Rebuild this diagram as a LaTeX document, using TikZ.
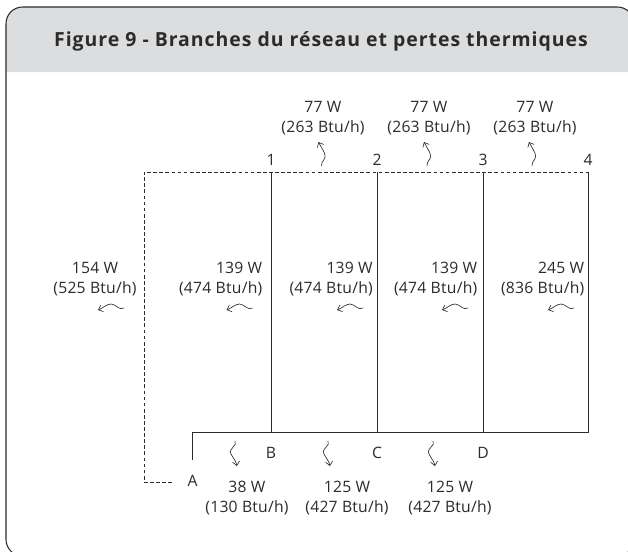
\documentclass[tikz,border=0pt]{standalone}
\usepackage{fontspec}
\setmainfont{Open Sans}
\usepackage{tikz}
\usetikzlibrary{arrows.meta,calc,positioning}
\definecolor{headgrey}{HTML}{DCDDDE}
\definecolor{inkgrey}{HTML}{2B2B2B}

\begin{document}
\begin{tikzpicture}[x=0.03cm, y=-0.03cm, every node/.style={text=inkgrey, inner sep=0pt},
  loss/.style={font=\fontsize{13.4}{17}\selectfont\addfontfeature{LetterSpace=1.5}, align=center},
  lossright/.style={font=\fontsize{13.4}{17}\selectfont\addfontfeature{LetterSpace=1.5}, align=right, anchor=east},
  tag/.style={font=\fontsize{13.4}{15}\selectfont},
  pipe/.style={draw=inkgrey, line width=0.8pt},
  pipedash/.style={draw=inkgrey, line width=0.8pt, dash pattern=on 3.2pt off 2pt},
  squig/.style={draw=inkgrey, line width=0.55pt, -{Straight Barb[length=3.4pt,width=6pt]}},
  pics/lossup/.style={code={\draw[squig] (0,0) .. controls (-1,-5) and (6,-7) .. (3,-13) .. controls (1,-17) and (-1,-20) .. (-3,-24);}},
  pics/lossdown/.style={code={\draw[squig] (0,0) .. controls (3,5) and (-7,7) .. (-4,13) .. controls (-2,17) and (1,20) .. (2,25);}},
  pics/lossleft/.style={code={\draw[squig] (0,0) .. controls (-5,3) and (-8,-4) .. (-13,-4) .. controls (-17,-4) and (-21,0) .. (-26,2);}}]

\useasboundingbox (0,0) rectangle (628,551);
\clip (0,0) rectangle (628,551);

% cadre et titre
\fill[headgrey] (6,72) [rounded corners=0.45cm] -- (6,7) -- (634,7) [sharp corners] -- (634,72) -- cycle;
\draw[inkgrey, line width=0.9pt, rounded corners=0.5cm] (6,7) rectangle (634,556);
\node[font=\fontsize{16.6}{19}\selectfont\bfseries\addfontfeature{LetterSpace=5}] (title) at (321,41.5) {Figure 9 - Branches du réseau et pertes thermiques};

% noeuds du réseau
\coordinate (top0) at (144,172);
\coordinate (top1) at (271,172);
\coordinate (top2) at (377,172);
\coordinate (top3) at (483,172);
\coordinate (top4) at (588,172);
\coordinate (botA) at (192.6,432);
\coordinate (botB) at (271,432);
\coordinate (botC) at (377,432);
\coordinate (botD) at (483,432);
\coordinate (botE) at (588,432);
\coordinate (endA) at (192.6,460);
\coordinate (corner) at (144,482);
\coordinate (endDash) at (172,482);

% conduites
\draw[pipedash] (endDash) -- (corner) -- (top0) -- (top4);
\draw[pipe] (endA) -- (botA) -- (botE) -- (top4);
\draw[pipe] (top1) -- (botB);
\draw[pipe] (top2) -- (botC);
\draw[pipe] (top3) -- (botD);

% reperes
\node[tag] (lab1) at (271,160) {1};
\node[tag] (lab2) at (377,160) {2};
\node[tag] (lab3) at (483,160) {3};
\node[tag] (lab4) at (588,160) {4};
\node[tag] (labA) at (192.6,481) {A};
\node[tag] (labB) at (271,453) {B};
\node[tag] (labC) at (377,453) {C};
\node[tag] (labD) at (483,453) {D};

% pertes retour
\node[loss] (up1) at (323,118.5) {77 W\\(263 Btu/h)};
\node[loss] (up2) at (429,118.5) {77 W\\(263 Btu/h)};
\node[loss] (up3) at (535,118.5) {77 W\\(263 Btu/h)};
\pic at (321.5,166) {lossup};
\pic at (427,166) {lossup};
\pic at (532,166) {lossup};

% pertes branches
\node[loss] (riser0) at (95,279.5) {154 W\\(525 Btu/h)};
\node[lossright] (riser1) at (262.5,279.5) {139 W\\(474 Btu/h)};
\node[lossright] (riser2) at (373,279.5) {139 W\\(474 Btu/h)};
\node[lossright] (riser3) at (477.5,279.5) {139 W\\(474 Btu/h)};
\node[lossright] (riser4) at (584.5,279.5) {245 W\\(836 Btu/h)};
\pic at (124,308) {lossleft};
\pic at (252.5,308) {lossleft};
\pic at (363,308) {lossleft};
\pic at (468,308) {lossleft};
\pic at (574,308) {lossleft};

% pertes aller
\node[loss] (down1) at (247,498.5) {38 W\\(130 Btu/h)};
\node[loss] (down2) at (347,498.5) {125 W\\(427 Btu/h)};
\node[loss] (down3) at (450,498.5) {125 W\\(427 Btu/h)};
\pic at (235,441) {lossdown};
\pic at (328,441) {lossdown};
\pic at (433,441) {lossdown};

\end{tikzpicture}
\end{document}
